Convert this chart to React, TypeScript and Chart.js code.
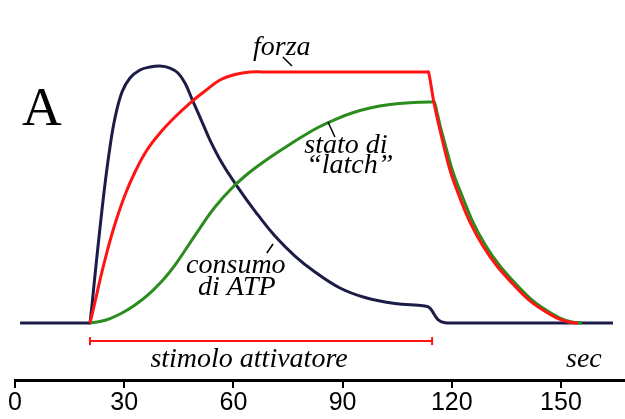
import React, { useEffect, useRef } from "react";
import { Chart, registerables } from "chart.js";

Chart.register(...registerables);

// x in seconds, y in relative units (0 = rest, 100 = max force)
const xTicks = [0, 30, 60, 90, 120, 150];

const atpX = [1.4, 20.3, 20.6, 21.98, 23.35, 24.73, 26.1, 27.47, 29.4, 31.59, 34.34, 37.09, 39.84, 42.58, 44.78, 46.7, 48.63, 50.82, 53.57, 56.87, 60.99, 65.93, 71.43, 76.92, 82.42, 89.29, 96.15, 104.4, 112.64, 114.01, 115.11, 116.21, 117.86, 120.88, 164.29];
const atpY = [0, 0, 0, 19.12, 37.85, 55.38, 70.12, 81.67, 92.03, 97.61, 100.8, 101.99, 102.39, 101.59, 99.6, 95.62, 89.24, 82.07, 72.91, 63.75, 54.58, 44.62, 34.66, 26.69, 20.32, 13.94, 10.16, 7.77, 6.77, 5.98, 3.59, 1.39, 0.2, 0, 0];

const forceX = [20.6, 21.98, 23.35, 25.27, 27.47, 30.22, 32.97, 36.26, 39.84, 43.96, 48.08, 52.2, 56.32, 60.44, 64.56, 70.05, 92.03, 113.19, 113.6, 114.29, 114.97, 115.93, 117.03, 119.51, 122.25, 125.0, 128.57, 132.42, 136.81, 140.93, 145.05, 148.9, 152.2, 154.67];
const forceY = [0, 8.37, 17.13, 28.29, 39.44, 51.0, 60.16, 68.92, 75.7, 82.07, 87.65, 92.43, 96.81, 99.0, 100, 100, 100, 100, 100, 94.82, 88.84, 82.07, 75.3, 60.96, 49.8, 40.24, 30.68, 22.71, 15.54, 9.56, 5.18, 1.99, 0.4, 0];

const latchX = [20.6, 23.35, 26.1, 29.4, 32.97, 37.09, 40.66, 43.96, 47.53, 50.82, 54.95, 59.89, 64.56, 69.23, 74.18, 78.3, 83.24, 87.91, 92.58, 97.53, 103.02, 108.52, 114.84, 115.25, 115.8, 116.76, 117.86, 120.33, 123.08, 125.82, 129.4, 133.24, 137.64, 141.76, 145.88, 149.73, 153.02, 155.77];
const latchY = [0, 0.6, 1.79, 3.98, 7.17, 11.95, 17.13, 23.11, 30.68, 37.85, 46.22, 54.18, 60.16, 65.14, 69.92, 73.71, 77.89, 81.08, 83.67, 85.66, 87.05, 87.77, 88.05, 87.93, 84.86, 78.88, 72.91, 60.16, 49.8, 40.24, 30.68, 22.71, 15.54, 9.56, 5.18, 1.99, 0.4, 0];

const stimX = [20.6, 114.6];
const stimLevel = -7.2;

const RED = "#ff1414";
const GREEN = "#2a8c1c";
const BLUE = "#1c1c48";

const zip = (xs: number[], ys: number[]) => xs.map((x, i) => ({ x, y: ys[i] }));

type Label = { text: string; x: number; y: number; size: number; italic: boolean; align: CanvasTextAlign };
const labels: Label[] = [
  { text: "A", x: 1.9, y: 78.9, size: 55, italic: false, align: "left" },
  { text: "forza", x: 65.4, y: 106.8, size: 28, italic: true, align: "left" },
  { text: "stato di", x: 79.5, y: 67.7, size: 28, italic: true, align: "left" },
  { text: "\u201Clatch\u201D", x: 80.0, y: 59.8, size: 28, italic: true, align: "left" },
  { text: "consumo", x: 47.0, y: 19.9, size: 28, italic: true, align: "left" },
  { text: "di ATP", x: 50.3, y: 11.2, size: 28, italic: true, align: "left" },
  { text: "stimolo attivatore", x: 64.3, y: -17.5, size: 28, italic: true, align: "center" },
  { text: "sec", x: 151.4, y: -17.5, size: 28, italic: true, align: "left" },
];
const leaders = [
  [73.6, 106.0, 76.1, 102.4],
  [86.0, 80.1, 87.9, 74.1],
  [70.9, 31.5, 69.2, 27.9],
];

const annotate = {
  id: "annotate",
  afterDatasetsDraw(chart: any) {
    const { ctx } = chart;
    const xs = chart.scales.x;
    const ys = chart.scales.y;
    ctx.save();
    ctx.fillStyle = "#000";
    ctx.textBaseline = "alphabetic";
    for (const l of labels) {
      ctx.font = `${l.italic ? "italic " : ""}${l.size}px "Liberation Serif", serif`;
      ctx.textAlign = l.align;
      ctx.fillText(l.text, xs.getPixelForValue(l.x), ys.getPixelForValue(l.y));
    }
    ctx.strokeStyle = "#000";
    ctx.lineWidth = 1.5;
    for (const [x1, y1, x2, y2] of leaders) {
      ctx.beginPath();
      ctx.moveTo(xs.getPixelForValue(x1), ys.getPixelForValue(y1));
      ctx.lineTo(xs.getPixelForValue(x2), ys.getPixelForValue(y2));
      ctx.stroke();
    }
    ctx.restore();
  },
};

export default function App() {
  const ref = useRef<HTMLCanvasElement>(null);
  useEffect(() => {
    if (!ref.current) return;
    const lineDs = (label: string, data: any[], color: string) => ({
      label,
      data,
      borderColor: color,
      backgroundColor: color,
      borderWidth: 3,
      pointRadius: 0,
      tension: 0.4,
      fill: false,
    });
    const chart = new Chart(ref.current, {
      type: "line",
      data: {
        datasets: [
          {
            label: "stimolo attivatore",
            data: zip(stimX, stimX.map(() => stimLevel)),
            borderColor: RED,
            backgroundColor: RED,
            borderWidth: 2,
            pointStyle: "line",
            pointRotation: 90,
            pointRadius: 4,
            pointBorderWidth: 2,
            pointBorderColor: RED,
            tension: 0,
          } as any,
          lineDs("forza", zip(forceX, forceY), RED),
          lineDs("stato di latch", zip(latchX, latchY), GREEN),
          lineDs("consumo di ATP", zip(atpX, atpY), BLUE),
        ],
      },
      options: {
        responsive: false,
        animation: false,
        devicePixelRatio: 1,
        layout: { autoPadding: false, padding: { left: 15, right: 0, top: 0, bottom: 0 } },
        plugins: { legend: { display: false }, tooltip: { enabled: false } },
        scales: {
          x: {
            type: "linear",
            min: 0,
            max: 167.6,
            afterBuildTicks: (s: any) => {
              s.ticks = xTicks.map((v) => ({ value: v }));
            },
            afterFit: (s: any) => {
              s.height = 39;
            },
            grid: {
              display: true,
              drawOnChartArea: false,
              drawTicks: true,
              tickLength: 8,
              color: "#000",
              lineWidth: 2,
            },
            border: { display: true, color: "#000", width: 3 },
            ticks: {
              color: "#000",
              font: { family: "'Liberation Sans', Arial, sans-serif", size: 25 },
              padding: 0,
              maxRotation: 0,
              autoSkip: false,
            },
          },
          y: { display: false, min: -22.7, max: 128.7 },
        },
      },
      plugins: [annotate],
    });
    return () => chart.destroy();
  }, []);
  return (
    <div style={{ position: "absolute", left: 0, top: 0, width: 625, height: 419, background: "#fff" }}>
      <canvas ref={ref} width={625} height={419} style={{ display: "block" }} />
    </div>
  );
}
